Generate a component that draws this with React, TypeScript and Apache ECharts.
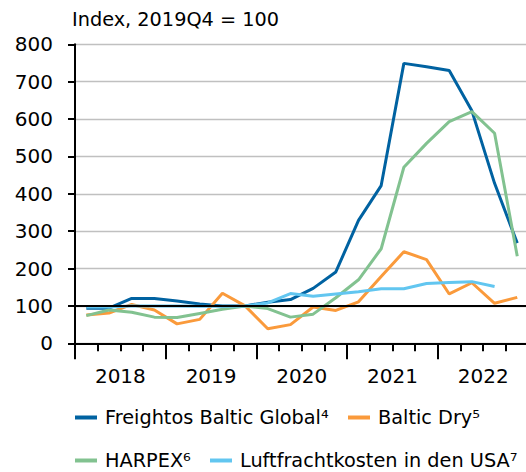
import React, { useEffect, useRef } from 'react';
import * as echarts from 'echarts';

const quarters = [
  '2018Q1', '2018Q2', '2018Q3', '2018Q4',
  '2019Q1', '2019Q2', '2019Q3', '2019Q4',
  '2020Q1', '2020Q2', '2020Q3', '2020Q4',
  '2021Q1', '2021Q2', '2021Q3', '2021Q4',
  '2022Q1', '2022Q2', '2022Q3', '2022Q4',
];
const years = ['2018', '2019', '2020', '2021', '2022'];

const freightos = [94, 94, 120, 120, 113, 105, 100, 100, 110, 117, 147, 191, 329, 422, 749, 740, 730, 622, 428, 268];
const balticDry = [76, 81, 104, 89, 52, 64, 134, 100, 39, 50, 97, 88, 111, 179, 245, 224, 132, 162, 107, 123];
const harpex = [74, 89, 83, 70, 69, 80, 91, 100, 93, 70, 78, 122, 170, 253, 471, 535, 593, 620, 562, 233];
const luftfracht = [97, 97, 100, 100, 100, 99, 99, 100, 108, 133, 126, 132, 138, 146, 146, 160, 163, 165, 152, null];

const names = [
  'Freightos Baltic Global\u2074',
  'Baltic Dry\u2075',
  'HARPEX\u2076',
  'Luftfrachtkosten in den USA\u2077',
];
const colors = ['#0062a1', '#fa9a3b', '#82c290', '#62c6f0'];

const FONT = 'DejaVu Sans';

export default function App() {
  const ref = useRef<HTMLDivElement>(null);
  useEffect(() => {
    document.body.style.margin = '0';
    const chart = echarts.init(ref.current!, null, { renderer: 'svg' });
    const legendBase = (name: string, left: number, top: number, color: string) => ({
      data: [name],
      left,
      top,
      padding: 0,
      icon: 'rect',
      itemWidth: 22,
      itemHeight: 4,
      selectedMode: false,
      itemStyle: { color },
      textStyle: { fontSize: 19.3, color: '#000', fontFamily: FONT, padding: [0, 0, 0, 3] },
    });
    const seriesData = [freightos, balticDry, harpex, luftfracht];
    chart.setOption({
      animation: false,
      textStyle: { fontFamily: FONT },
      title: {
        text: 'Index, 2019Q4 = 100',
        left: 72,
        top: 10,
        padding: 0,
        textStyle: { fontSize: 19.3, fontWeight: 'normal', color: '#000', fontFamily: FONT },
      },
      legend: [
        legendBase(names[0], 75, 408, colors[0]),
        legendBase(names[1], 348, 408, colors[1]),
        legendBase(names[2], 75, 451, colors[2]),
        legendBase(names[3], 210, 451, colors[3]),
      ],
      grid: {
        left: 75,
        top: 44.3,
        width: 453.6,
        height: 299,
        outerBoundsMode: 'none',
        containLabel: false,
      },
      xAxis: [
        {
          type: 'category',
          data: quarters,
          boundaryGap: true,
          position: 'bottom',
          axisLine: { show: true, onZero: false, lineStyle: { color: '#000', width: 2 } },
          axisTick: { show: true, interval: 0, length: 8, lineStyle: { color: '#000', width: 2 } },
          axisLabel: { show: false },
          splitLine: { show: false },
        },
        {
          type: 'category',
          data: years,
          boundaryGap: true,
          position: 'bottom',
          axisLine: { show: false, onZero: false },
          axisTick: { show: true, interval: 0, length: 16, lineStyle: { color: '#000', width: 2 } },
          axisLabel: { show: true, interval: 0, margin: 23, color: '#000', fontSize: 20, fontFamily: FONT },
          splitLine: { show: false },
        },
      ],
      yAxis: {
        type: 'value',
        min: 0,
        max: 800,
        interval: 100,
        axisLine: { show: true, lineStyle: { color: '#000', width: 2 } },
        axisTick: { show: true, length: 7, lineStyle: { color: '#000', width: 2 } },
        axisLabel: { margin: 22, fontSize: 20, color: '#000', fontFamily: FONT },
        splitLine: { show: true, lineStyle: { color: '#c0c0c0', width: 1.3 } },
      },
      series: seriesData.map((d, i) => ({
        name: names[i],
        type: 'line',
        xAxisIndex: 0,
        data: d,
        symbol: 'none',
        connectNulls: false,
        lineStyle: { color: colors[i], width: 3 },
        itemStyle: { color: colors[i] },
        ...(i === 3
          ? {
              markLine: {
                silent: true,
                symbol: 'none',
                label: { show: false },
                lineStyle: { color: '#000', width: 2, type: 'solid' },
                data: [{ yAxis: 100 }],
              },
            }
          : {}),
      })),
    });
    return () => chart.dispose();
  }, []);
  return <div ref={ref} style={{ width: 526, height: 472 }} />;
}
